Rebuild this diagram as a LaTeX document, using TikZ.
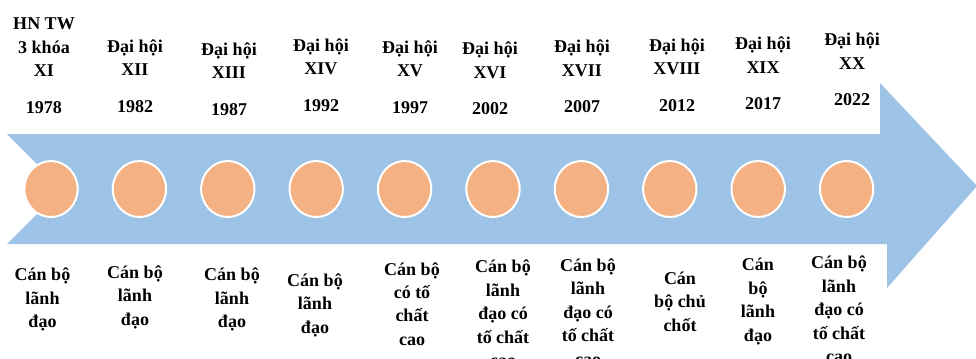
\documentclass[tikz,border=0pt]{standalone}
\usepackage{fontspec}
\setmainfont{Liberation Serif}
\usepackage{xcolor}
\usepackage{tikz}
\usetikzlibrary{shapes.geometric}
\definecolor{bandblue}{HTML}{9DC3E6}
\definecolor{dotorange}{HTML}{F4B183}

\begin{document}
\begin{tikzpicture}[x=0.75pt,y=-0.75pt,
  dot/.style={ellipse,fill=dotorange,draw=white,line width=1.5pt,minimum width=40pt,minimum height=42pt,inner sep=0pt},
  lbl/.style={align=center,inner sep=0pt,font=\fontsize{13.5}{17.6}\selectfont\bfseries}]
\useasboundingbox (0,0) rectangle (976,358);
\clip (0,0) rectangle (976,358);
% band with arrow head
\fill[bandblue] (7,134) -- (880,134) -- (880,83) -- (977,186) -- (887,288) -- (887,244) -- (7,244) -- (62,189) -- cycle;
% dots
\node[dot] (c1) at (51,189) {};
\node[dot] (c2) at (139.4,189) {};
\node[dot] (c3) at (227.8,189) {};
\node[dot] (c4) at (316.2,189) {};
\node[dot] (c5) at (404.6,189) {};
\node[dot] (c6) at (493,189) {};
\node[dot] (c7) at (581.4,189) {};
\node[dot] (c8) at (669.8,189) {};
\node[dot] (c9) at (758.2,189) {};
\node[dot] (c10) at (846.6,189) {};
% congress and year
\node[lbl] (t1) at (44,66) {HN TW\\3 khóa\\XI\\[10pt]1978};
\node[lbl] (t2) at (135,76) {Đại hội\\XII\\[10pt]1982};
\node[lbl] (t3) at (229,79) {Đại hội\\XIII\\[10pt]1987};
\node[lbl] (t4) at (321,75) {Đại hội\\XIV\\[10pt]1992};
\node[lbl] (t5) at (410,77) {Đại hội\\XV\\[10pt]1997};
\node[lbl] (t6) at (490,78.5) {Đại hội\\XVI\\[10pt]2002};
\node[lbl] (t7) at (582,76.5) {Đại hội\\XVII\\[10pt]2007};
\node[lbl] (t8) at (677,75) {Đại hội\\XVIII\\[10pt]2012};
\node[lbl] (t9) at (763,73.5) {Đại hội\\XIX\\[10pt]2017};
\node[lbl] (t10) at (852,69.5) {Đại hội\\XX\\[10pt]2022};
% cadre type
\node[lbl] (b1) at (42.5,299.5) {Cán bộ\\lãnh\\đạo};
\node[lbl] (b2) at (135,297) {Cán bộ\\lãnh\\đạo};
\node[lbl] (b3) at (232,299.5) {Cán bộ\\lãnh\\đạo};
\node[lbl] (b4) at (315,305) {Cán bộ\\lãnh\\đạo};
\node[lbl] (b5) at (412,304) {Cán bộ\\có tố\\chất\\cao};
\node[lbl] (b6) at (503,313.5) {Cán bộ\\lãnh\\đạo có\\tố chất\\cao};
\node[lbl] (b7) at (588,312) {Cán bộ\\lãnh\\đạo có\\tố chất\\cao};
\node[lbl] (b8) at (680,301.5) {Cán\\bộ chủ\\chốt};
\node[lbl] (b9) at (758,301.5) {Cán\\bộ\\lãnh\\đạo};
\node[lbl] (b10) at (839,309.5) {Cán bộ\\lãnh\\đạo có\\tố chất\\cao};
\end{tikzpicture}
\end{document}
